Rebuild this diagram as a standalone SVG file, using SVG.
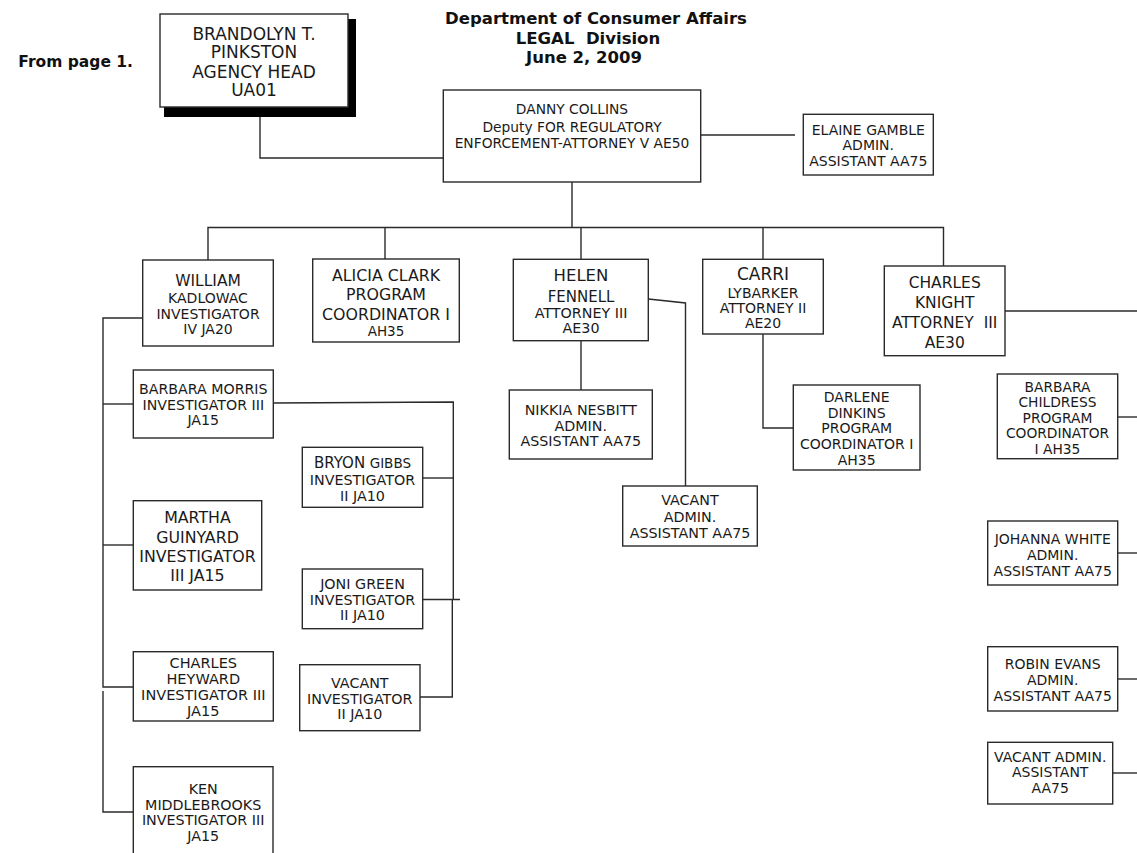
<svg xmlns="http://www.w3.org/2000/svg" width="1137" height="853" viewBox="0 0 1137 853">
<style>
.box{fill:#fff;stroke:#2a2a2a;stroke-width:1.4}
.shadow{fill:#000}
.t{font-family:"DejaVu Sans","Liberation Sans",sans-serif;fill:#1a1a1a;text-anchor:middle}
.title{font-family:"DejaVu Sans","Liberation Sans",sans-serif;font-weight:bold;fill:#111;font-size:16.5px}
.c{fill:none;stroke:#2a2a2a;stroke-width:1.4}
</style>
<rect width="1137" height="853" fill="#fff"/>
<text class="title" x="133" y="67" text-anchor="end" style="font-size:15.5px">From page 1.</text>
<g id="title">
<text class="title" x="596" y="24" text-anchor="middle">Department of Consumer Affairs</text>
<text class="title" x="588" y="44" text-anchor="middle" xml:space="preserve">LEGAL  Division</text>
<text class="title" x="584" y="63" text-anchor="middle">June 2, 2009</text>
</g>
<g id="connectors">
<path class="c" d="M260,117 V158 H443"/>
<path class="c" d="M700,135 H795"/>
<path class="c" d="M572,182 V228"/>
<path class="c" d="M208,260 V227.5 H943.5 V266"/>
<path class="c" d="M385,228 V259"/>
<path class="c" d="M581,228 V259"/>
<path class="c" d="M763,228 V259"/>
<path class="c" d="M142.7,318 H103 V687 H133.3"/>
<path class="c" d="M103,691 V812 H133.3"/>
<path class="c" d="M103,404 H133.3"/>
<path class="c" d="M103,545 H133.3"/>
<path class="c" d="M273.3,403 L453.3,402 V600"/>
<path class="c" d="M422.7,478 H453.3"/>
<path class="c" d="M422.7,599.5 H460"/>
<path class="c" d="M452.3,599.5 V697 H420"/>
<path class="c" d="M648.3,299 L685.5,303 V486"/>
<path class="c" d="M581,341 V390"/>
<path class="c" d="M763,334 V428 H793.3"/>
<path class="c" d="M1005,311 H1137"/>
<path class="c" d="M1117.7,417 H1137"/>
<path class="c" d="M1117.7,553 H1137"/>
<path class="c" d="M1117.7,679 H1137"/>
<path class="c" d="M1112.7,773 H1137"/>
</g>
<g id="brandolyn">
<rect class="shadow" x="164" y="19" width="192" height="98"/>
<rect class="box" x="160" y="14" width="188" height="93"/>
<text class="t" style="font-size:17px"><tspan x="254" y="39.5">BRANDOLYN T.</tspan><tspan x="254" y="58">PINKSTON</tspan><tspan x="254" y="78">AGENCY HEAD</tspan><tspan x="254" y="96">UA01</tspan></text>
</g>
<g id="danny">
<rect class="box" x="443.3" y="90" width="257.4" height="92"/>
<text class="t" style="font-size:13.8px"><tspan x="572" y="114">DANNY COLLINS</tspan><tspan x="572" y="132">Deputy FOR REGULATORY</tspan><tspan x="572" y="148">ENFORCEMENT-ATTORNEY V AE50</tspan></text>
</g>
<g id="elaine">
<rect class="box" x="803.3" y="114.3" width="130" height="60.7"/>
<text class="t" style="font-size:14px"><tspan x="868.3" y="134.5">ELAINE GAMBLE</tspan><tspan x="868.3" y="150">ADMIN.</tspan><tspan x="868.3" y="166">ASSISTANT AA75</tspan></text>
</g>
<g id="william">
<rect class="box" x="142.7" y="260" width="130.6" height="86"/>
<text class="t" style="font-size:14px"><tspan x="208" y="286.3" style="font-size:15.5px">WILLIAM</tspan><tspan x="208" y="303">KADLOWAC</tspan><tspan x="208" y="319">INVESTIGATOR</tspan><tspan x="208" y="334">IV JA20</tspan></text>
</g>
<g id="alicia">
<rect class="box" x="312.7" y="259" width="146.6" height="83"/>
<text class="t" style="font-size:15.8px"><tspan x="386" y="280.8">ALICIA CLARK</tspan><tspan x="386" y="299.8">PROGRAM</tspan><tspan x="386" y="319.8">COORDINATOR I</tspan><tspan x="386" y="336" style="font-size:13.5px">AH35</tspan></text>
</g>
<g id="helen">
<rect class="box" x="513.3" y="259.3" width="135" height="81.4"/>
<text class="t" style="font-size:14.3px"><tspan x="581" y="281" style="font-size:16.5px">HELEN</tspan><tspan x="581" y="301.5" style="font-size:15px">FENNELL</tspan><tspan x="581" y="318.2">ATTORNEY III</tspan><tspan x="581" y="333">AE30</tspan></text>
</g>
<g id="carri">
<rect class="box" x="702.7" y="259.3" width="120.6" height="74.7"/>
<text class="t" style="font-size:14px"><tspan x="763" y="280.2" style="font-size:17px">CARRI</tspan><tspan x="763" y="297.8">LYBARKER</tspan><tspan x="763" y="313.4">ATTORNEY II</tspan><tspan x="763" y="328.4">AE20</tspan></text>
</g>
<g id="charles-knight">
<rect class="box" x="884.3" y="266" width="120.7" height="89.7"/>
<text class="t" style="font-size:15.5px" xml:space="preserve"><tspan x="944.7" y="288.4">CHARLES</tspan><tspan x="944.7" y="308.4">KNIGHT</tspan><tspan x="944.7" y="328">ATTORNEY  III</tspan><tspan x="944.7" y="347.7">AE30</tspan></text>
</g>
<g id="barbara-morris">
<rect class="box" x="133.3" y="370" width="140" height="68"/>
<text class="t" style="font-size:14.2px"><tspan x="203.3" y="394.2">BARBARA MORRIS</tspan><tspan x="203.3" y="410.2">INVESTIGATOR III</tspan><tspan x="203.3" y="425.2">JA15</tspan></text>
</g>
<g id="nikkia">
<rect class="box" x="509.3" y="390" width="143" height="69"/>
<text class="t" style="font-size:14.3px"><tspan x="580.8" y="415.2">NIKKIA NESBITT</tspan><tspan x="580.8" y="431">ADMIN.</tspan><tspan x="580.8" y="446">ASSISTANT AA75</tspan></text>
</g>
<g id="darlene">
<rect class="box" x="793.3" y="385" width="126.7" height="85"/>
<text class="t" style="font-size:14px"><tspan x="856.7" y="402.4">DARLENE</tspan><tspan x="856.7" y="417.8">DINKINS</tspan><tspan x="856.7" y="433.4">PROGRAM</tspan><tspan x="856.7" y="449.1">COORDINATOR I</tspan><tspan x="856.7" y="465.1">AH35</tspan></text>
</g>
<g id="barbara-childress">
<rect class="box" x="997.3" y="374" width="120.4" height="84.7"/>
<text class="t" style="font-size:13.8px"><tspan x="1057.5" y="391.7">BARBARA</tspan><tspan x="1057.5" y="406.7">CHILDRESS</tspan><tspan x="1057.5" y="422.7">PROGRAM</tspan><tspan x="1057.5" y="438.3">COORDINATOR</tspan><tspan x="1057.5" y="454">I AH35</tspan></text>
</g>
<g id="bryon">
<rect class="box" x="302.3" y="447.3" width="120.4" height="60"/>
<text class="t" style="font-size:14.3px"><tspan x="362.5" y="468.2"><tspan style="font-size:15px">BRYON</tspan> <tspan style="font-size:13.5px">GIBBS</tspan></tspan><tspan x="362.5" y="485.2">INVESTIGATOR</tspan><tspan x="362.5" y="501.2">II JA10</tspan></text>
</g>
<g id="vacant-admin-helen">
<rect class="box" x="622.7" y="486" width="134.6" height="60"/>
<text class="t" style="font-size:14.3px"><tspan x="690" y="505.2">VACANT</tspan><tspan x="690" y="522">ADMIN.</tspan><tspan x="690" y="538">ASSISTANT AA75</tspan></text>
</g>
<g id="martha">
<rect class="box" x="133.3" y="500.7" width="128.4" height="89.3"/>
<text class="t" style="font-size:15.8px"><tspan x="197.5" y="522.8">MARTHA</tspan><tspan x="197.5" y="542.5">GUINYARD</tspan><tspan x="197.5" y="561.5">INVESTIGATOR</tspan><tspan x="197.5" y="580.8">III JA15</tspan></text>
</g>
<g id="johanna">
<rect class="box" x="987.7" y="521" width="130" height="64"/>
<text class="t" style="font-size:14px"><tspan x="1052.7" y="544.1">JOHANNA WHITE</tspan><tspan x="1052.7" y="560.1">ADMIN.</tspan><tspan x="1052.7" y="575.8">ASSISTANT AA75</tspan></text>
</g>
<g id="joni">
<rect class="box" x="302.3" y="569" width="120.4" height="59.7"/>
<text class="t" style="font-size:14.3px"><tspan x="362.5" y="589.2">JONI GREEN</tspan><tspan x="362.5" y="605.2">INVESTIGATOR</tspan><tspan x="362.5" y="620.2">II JA10</tspan></text>
</g>
<g id="robin">
<rect class="box" x="987.7" y="646.7" width="130" height="64.3"/>
<text class="t" style="font-size:14px"><tspan x="1052.7" y="669.1">ROBIN EVANS</tspan><tspan x="1052.7" y="685.1">ADMIN.</tspan><tspan x="1052.7" y="701.1">ASSISTANT AA75</tspan></text>
</g>
<g id="charles-heyward">
<rect class="box" x="133.3" y="651.7" width="140" height="69.3"/>
<text class="t" style="font-size:14.5px"><tspan x="203.3" y="668">CHARLES</tspan><tspan x="203.3" y="684.3">HEYWARD</tspan><tspan x="203.3" y="700.3">INVESTIGATOR III</tspan><tspan x="203.3" y="716">JA15</tspan></text>
</g>
<g id="vacant-investigator">
<rect class="box" x="299.7" y="664.7" width="120.3" height="66"/>
<text class="t" style="font-size:14.3px"><tspan x="359.8" y="687.9">VACANT</tspan><tspan x="359.8" y="703.5">INVESTIGATOR</tspan><tspan x="359.8" y="719.2">II JA10</tspan></text>
</g>
<g id="vacant-admin-right">
<rect class="box" x="987.7" y="742.3" width="125" height="61.7"/>
<text class="t" style="font-size:14px"><tspan x="1050.2" y="761.8">VACANT ADMIN.</tspan><tspan x="1050.2" y="777.4">ASSISTANT</tspan><tspan x="1050.2" y="793.4">AA75</tspan></text>
</g>
<g id="ken">
<rect class="box" x="133.3" y="766.7" width="139.7" height="100"/>
<text class="t" style="font-size:14.3px"><tspan x="203.2" y="794.2">KEN</tspan><tspan x="203.2" y="810.2">MIDDLEBROOKS</tspan><tspan x="203.2" y="825.2">INVESTIGATOR III</tspan><tspan x="203.2" y="841.2">JA15</tspan></text>
</g>
</svg>
